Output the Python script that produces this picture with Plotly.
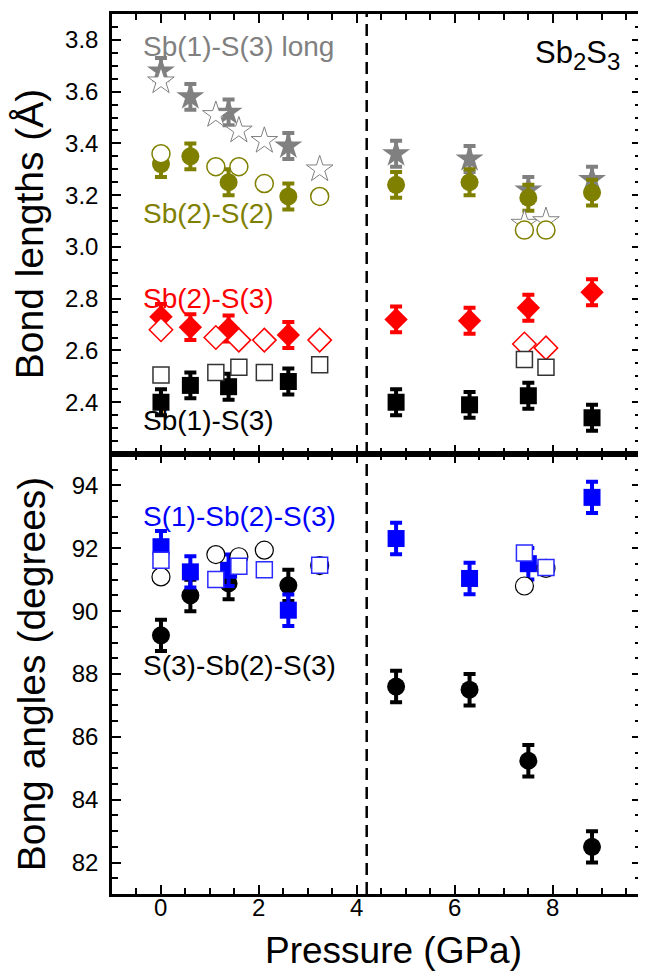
import plotly.graph_objects as go

# ---------------- data ----------------
p_filled = [0, 0.6, 1.38, 2.6, 4.8, 6.3, 7.5, 8.8]
p_open = [0, 1.12, 1.59, 2.11, 3.24, 7.42, 7.86]

sb1s3_long_filled = [3.68, 3.58, 3.52, 3.39, 3.36, 3.34, 3.22, 3.26]
sb1s3_long_open = [3.64, 3.51, 3.45, 3.41, 3.30, 3.09, 3.10]
sb2s2_filled = [3.32, 3.35, 3.25, 3.195, 3.24, 3.25, 3.19, 3.21]
sb2s2_open = [3.36, 3.31, 3.31, 3.245, 3.195, 3.065, 3.065]
sb2s3_filled = [2.73, 2.69, 2.685, 2.66, 2.72, 2.715, 2.765, 2.825]
sb2s3_open = [2.68, 2.65, 2.64, 2.64, 2.64, 2.625, 2.61]
sb1s3_filled = [2.40, 2.465, 2.46, 2.48, 2.40, 2.39, 2.425, 2.34]
sb1s3_open = [2.505, 2.515, 2.535, 2.515, 2.545, 2.565, 2.535]
len_err = 0.05

s1sb2s3_filled = [92.05, 91.25, 91.3, 90.03, 92.31, 91.04, 91.51, 93.62]
s1sb2s3_open = [91.62, 91.01, 91.43, 91.32, 91.46, 91.85, 91.39]
s3sb2s3_filled = [89.23, 90.50, 90.88, 90.82, 87.6, 87.5, 85.24, 82.5]
s3sb2s3_open = [91.09, 91.80, 91.73, 91.94, 91.45, 90.80, 91.36]
ang_err = 0.5

transition_p = 4.2
x_ticks = [0, 2, 4, 6, 8]
x_tick_labels = ["0", "2", "4", "6", "8"]
len_ticks = [2.4, 2.6, 2.8, 3.0, 3.2, 3.4, 3.6, 3.8]
ang_ticks = [82, 84, 86, 88, 90, 92, 94]

GRAY = "#808080"
OLIVE = "#808000"
RED = "#FF0000"
BLACK = "#000000"
BLUE = "#0000FF"
FONT = "Liberation Sans, Arial, sans-serif"

fig = go.Figure()


def filled(x, y, sym, size, color, err, xa, ya):
    fig.add_trace(go.Scatter(
        x=x, y=y, mode="markers", xaxis=xa, yaxis=ya, showlegend=False,
        marker=dict(symbol=sym, size=size, color=color, line=dict(width=0)),
        error_y=dict(type="constant", value=err, color=color, thickness=4, width=6),
    ))


def opened(x, y, sym, size, color, lw, xa, ya):
    fig.add_trace(go.Scatter(
        x=x, y=y, mode="markers", xaxis=xa, yaxis=ya, showlegend=False,
        marker=dict(symbol=sym, size=size, color="white", line=dict(width=lw, color=color)),
    ))


# top panel (bond lengths)
filled(p_filled, sb1s3_long_filled, "star", 21, GRAY, len_err, "x", "y")
filled(p_filled, sb2s2_filled, "circle", 18, OLIVE, len_err, "x", "y")
filled(p_filled, sb2s3_filled, "diamond", 18, RED, len_err, "x", "y")
filled(p_filled, sb1s3_filled, "square", 17, BLACK, len_err, "x", "y")
opened(p_open, sb1s3_long_open, "star", 20, GRAY, 1, "x", "y")
opened(p_open, sb2s2_open, "circle", 18, OLIVE, 1.5, "x", "y")
opened(p_open, sb2s3_open, "diamond", 18, RED, 1.5, "x", "y")
opened(p_open, sb1s3_open, "square", 16, "#333333", 1.5, "x", "y")

# bottom panel (angles)
filled(p_filled, s3sb2s3_filled, "circle", 18, BLACK, ang_err, "x2", "y2")
filled(p_filled, s1sb2s3_filled, "square", 17, BLUE, ang_err, "x2", "y2")
opened(p_open, s3sb2s3_open, "circle", 18, BLACK, 1.2, "x2", "y2")
opened(p_open, s1sb2s3_open, "square", 16, "#2a2aff", 1.5, "x2", "y2")

axis_common = dict(
    showline=True, linewidth=2.5, linecolor="black", mirror="ticks",
    ticks="inside", ticklen=9, tickwidth=2, tickcolor="black",
    showgrid=False, zeroline=False,
    tickfont=dict(family=FONT, size=24, color="black"),
)
minor_x = dict(dtick=0.5, ticklen=6, tickwidth=2, tickcolor="black", ticks="inside")

# The page body keeps its default 8px margin, so the figure is 8px smaller
fig.update_layout(
    width=638, height=966,
    margin=dict(l=104, r=2, t=6, b=80),
    paper_bgcolor="white", plot_bgcolor="white",
    font=dict(family=FONT, color="black"),
    xaxis=dict(**axis_common, domain=[0, 1], anchor="y", range=[-1, 9.8],
               tickvals=x_ticks, showticklabels=False, matches="x2", minor=minor_x),
    yaxis=dict(**axis_common, domain=[0.5, 1], anchor="x", range=[2.2, 3.9],
               tickvals=len_ticks, tickformat=".1f", ticklabelstandoff=6,
               minor=dict(tickvals=[2.2 + 0.05 * i for i in range(35)], ticklen=6,
                          tickwidth=2, tickcolor="black", ticks="inside"),
               title=dict(text="Bond lengths (Å)", font=dict(family=FONT, size=39), standoff=15)),
    xaxis2=dict(**axis_common, domain=[0, 1], anchor="y2", range=[-1, 9.8],
                tickvals=x_ticks, showticklabels=False, minor=minor_x),
    yaxis2=dict(**axis_common, domain=[0, 0.5], anchor="x2", range=[81, 95],
                tickvals=ang_ticks, ticklabelstandoff=6,
                minor=dict(dtick=0.5, ticklen=6, tickwidth=2, tickcolor="black", ticks="inside"),
                title=dict(text="Bong angles (degrees)", font=dict(family=FONT, size=39), standoff=15)),
)

# x tick labels, placed tight under the axis as in the reference
for v, t in zip(x_ticks, x_tick_labels):
    fig.add_annotation(text=t, x=v, y=-(899 - 886) / 880, xref="x2", yref="paper",
                       xanchor="center", yanchor="middle", showarrow=False,
                       font=dict(family=FONT, size=24, color="black"))

# dashed transition line across both panels
for xa, ya, yr in (("x", "y", [2.2, 3.9]), ("x2", "y2", [81, 95])):
    fig.add_shape(type="line", xref=xa, yref=ya, x0=transition_p, x1=transition_p,
                  y0=yr[0], y1=yr[1], line=dict(color="black", width=2.5, dash="12px,7px"))

labels = [
    ("Sb(1)-S(3) long", -0.41, 3.773, GRAY, "x", "y"),
    ("Sb(2)-S(2)", -0.41, 3.129, OLIVE, "x", "y"),
    ("Sb(2)-S(3)", -0.41, 2.799, RED, "x", "y"),
    ("Sb(1)-S(3)", -0.41, 2.328, BLACK, "x", "y"),
    ("S(1)-Sb(2)-S(3)", -0.41, 93.0, BLUE, "x2", "y2"),
    ("S(3)-Sb(2)-S(3)", -0.41, 88.27, BLACK, "x2", "y2"),
]
for txt, x, y, c, xa, ya in labels:
    fig.add_annotation(text=txt, x=x, y=y, xref=xa, yref=ya, xanchor="left", yanchor="middle",
                       showarrow=False, font=dict(family=FONT, size=28, color=c))

fig.add_annotation(
    text="Sb<sub><span style='font-size:24px'>2</span></sub>S<sub><span style='font-size:24px'>3</span></sub>",
    x=9.42, y=3.74, xref="x", yref="y", xanchor="right", yanchor="middle", showarrow=False,
    font=dict(family=FONT, size=31, color="black"))

fig.add_annotation(text="Pressure (GPa)", x=(387 - 104) / 532, y=-(942 - 886) / 880,
                   xref="paper", yref="paper", xanchor="center", yanchor="middle",
                   showarrow=False, font=dict(family=FONT, size=37, color="black"))

fig.write_html("out.html")
